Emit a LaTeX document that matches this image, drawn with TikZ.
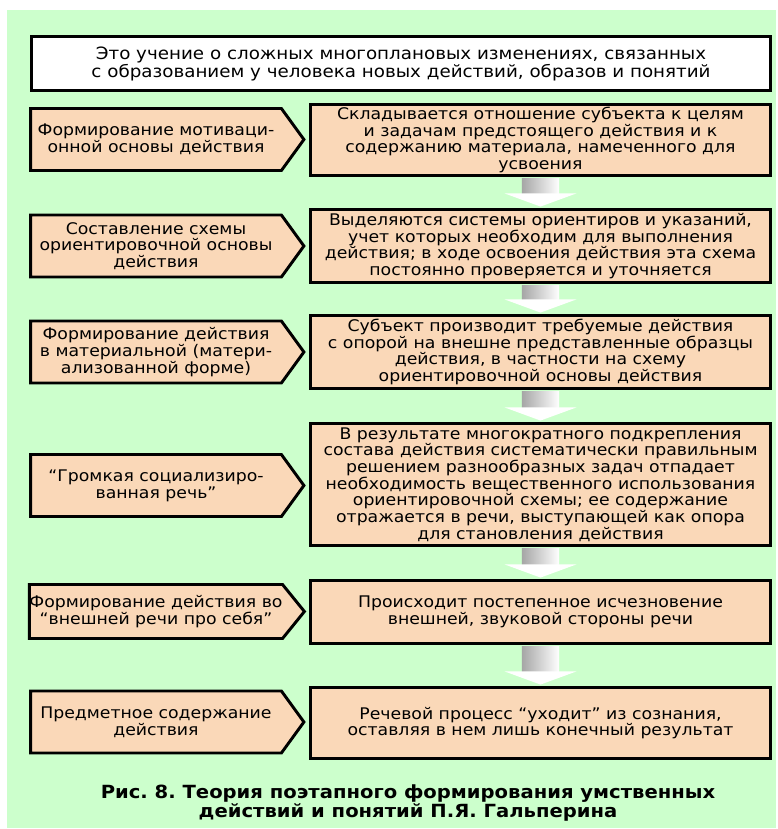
\documentclass[tikz,border=0pt]{standalone}
\usepackage{fontspec}
\setmainfont{DejaVu Sans}[FakeStretch=1.08]
\usetikzlibrary{shapes.symbols}
\frenchspacing

\definecolor{bggreen}{RGB}{204,255,204}
\definecolor{peach}{RGB}{250,216,184}

\tikzset{
    txt/.style={font=\fontsize{12pt}{12.5pt}\selectfont, align=center, inner sep=0pt},
    intro/.style={txt, draw, line width=2.2pt, fill=white, minimum width=554pt, minimum height=40.5pt,
        font=\fontsize{12.7pt}{12.5pt}\selectfont},
    stage/.style={txt, draw, line width=2.2pt, fill=peach, shape=signal, signal to=east,
        signal pointer angle=108, minimum width=205pt, minimum height=46.5pt},
    result/.style={txt, draw, line width=2.2pt, fill=peach, minimum width=345pt},
    figcap/.style={align=center, inner sep=0pt, font=\bfseries\fontsize{13.6pt}{12pt}\selectfont}
}

\begin{document}
\begin{tikzpicture}[x=0.75pt,y=-0.75pt]
    \useasboundingbox (0,0) rectangle (778,829);
    \fill[bggreen] (7,10) rectangle (776,828);

    \node[intro] (top) at (401,63.5) {Это учение о сложных многоплановых изменениях, связанных\\с образованием у человека новых действий, образов и понятий};

    \node[stage] (s1) at (156,139.5) {Формирование мотиваци-\\онной основы действия};
    \node[result, minimum height=53.25pt] (r1) at (540.5,140) {Складывается отношение субъекта к целям\\и задачам предстоящего действия и к\\содержанию материала, намеченного для\\усвоения};

    \node[stage] (s2) at (156,246) {Составление схемы\\ориентировочной основы\\действия};
    \node[result, minimum height=54.75pt] (r2) at (540.5,246) {Выделяются системы ориентиров и указаний,\\учет которых необходим для выполнения\\действия; в ходе освоения действия эта схема\\постоянно проверяется и уточняется};

    \node[stage] (s3) at (156,352) {Формирование действия\\в материальной (матери-\\ализованной форме)};
    \node[result, minimum height=54.75pt] (r3) at (540.5,352) {Субъект производит требуемые действия\\с опорой на внешне представленные образцы\\действия, в частности на схему\\ориентировочной основы действия};

    \node[stage] (s4) at (156,485.5) {“Громкая социализиро-\\ванная речь”};
    \node[result, minimum height=91.5pt] (r4) at (540.5,484.5) {В результате многократного подкрепления\\состава действия систематически правильным\\решением разнообразных задач отпадает\\необходимость вещественного использования\\ориентировочной схемы; ее содержание\\отражается в речи, выступающей как опора\\для становления действия};

    \node[stage, minimum height=40.5pt, signal pointer angle=102] (s5) at (156,611.5) {Формирование действия во\\“внешней речи про себя”};
    \node[result, minimum height=47.25pt] (r5) at (540.5,612) {Происходит постепенное исчезновение\\внешней, звуковой стороны речи};

    \node[stage] (s6) at (156,722) {Предметное содержание\\действия};
    \node[result, minimum height=53.25pt] (r6) at (540.5,723) {Речевой процесс “уходит” из сознания,\\оставляя в нем лишь конечный результат};

    % white block arrows between the right boxes
    \foreach \a/\b in {r1/r2, r2/r3, r3/r4, r4/r5, r5/r6} {
        \shade[left color=black!35, middle color=white, right color=white]
            ([xshift=-14pt,yshift=-1.1pt]\a.south) rectangle ([xshift=14pt,yshift=11pt]\b.north);
        \fill[white] ([xshift=-27pt,yshift=11pt]\b.north) -- ([xshift=27pt,yshift=11pt]\b.north)
            -- ([yshift=1.1pt]\b.north) -- cycle;
    }

    \node[figcap] (cap) at (408,803) {Рис. 8. Теория поэтапного формирования умственных\\действий и понятий П.Я. Гальперина};
\end{tikzpicture}
\end{document}
